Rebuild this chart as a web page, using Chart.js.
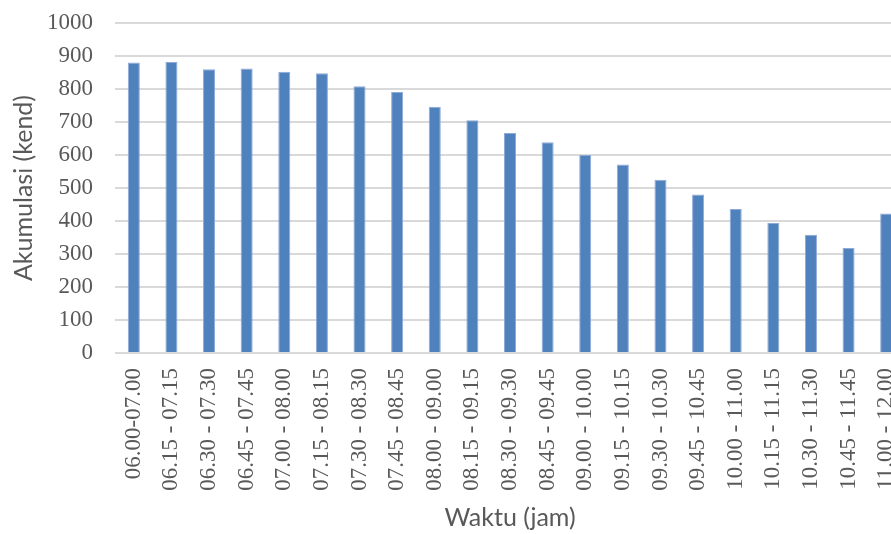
<!DOCTYPE html>
<html>
<head>
<meta charset="utf-8">
<script src="https://cdn.jsdelivr.net/npm/chart.js@4/dist/chart.umd.min.js"></script>
<style>
  html, body { margin: 0; padding: 0; background: #ffffff; overflow: hidden; }
  #chart { display: block; }
</style>
</head>
<body>
<canvas id="chart" width="905" height="534"></canvas>
<script>
// Time intervals (15-minute shifts) and accumulated vehicles per interval
const intervals = [
  "06.00-07.00", "06.15 - 07.15", "06.30 - 07.30", "06.45 - 07.45",
  "07.00 - 08.00", "07.15 - 08.15", "07.30 - 08.30", "07.45 - 08.45",
  "08.00 - 09.00", "08.15 - 09.15", "08.30 - 09.30", "08.45 - 09.45",
  "09.00 - 10.00", "09.15 - 10.15", "09.30 - 10.30", "09.45 - 10.45",
  "10.00 - 11.00", "10.15 - 11.15", "10.30 - 11.30", "10.45 - 11.45",
  "11.00 - 12.00"
];
const akumulasi = [
  880, 882, 860, 862, 852, 848, 808, 791, 746, 705, 667,
  639, 600, 571, 525, 480, 436, 394, 358, 318, 423
];
const yTicks = [0, 100, 200, 300, 400, 500, 600, 700, 800, 900, 1000];

const textColor = "#595959";
const serif = "'Liberation Serif', 'Times New Roman', serif";
const sans = "Lato, 'Open Sans', sans-serif";

new Chart(document.getElementById("chart"), {
  type: "bar",
  data: {
    labels: intervals,
    datasets: [{
      label: "Akumulasi",
      data: akumulasi,
      backgroundColor: "#4f81bd",
      borderColor: "#8eaad8",
      borderWidth: 1,
      categoryPercentage: 1.0,
      barPercentage: 0.32
    }]
  },
  options: {
    responsive: false,
    animation: false,
    layout: { padding: { top: 23, right: 0, bottom: 0, left: 0 } },
    plugins: {
      legend: { display: false },
      tooltip: { enabled: false }
    },
    scales: {
      x: {
        grid: { display: false, drawTicks: false },
        border: { display: false },
        ticks: {
          color: textColor,
          font: { family: serif, size: 23 },
          minRotation: 90,
          maxRotation: 90,
          autoSkip: false,
          padding: 15
        },
        title: {
          display: true,
          text: "Waktu (jam)",
          color: textColor,
          font: { family: sans, size: 25 },
          padding: { top: 0, bottom: 1 }
        },
        afterFit: (scale) => {
          scale.height = 181;
          scale.paddingLeft = 0;
          scale.paddingRight = 0;
        }
      },
      y: {
        min: 0,
        max: 1000,
        afterBuildTicks: (scale) => { scale.ticks = yTicks.map(v => ({ value: v })); },
        grid: { color: "#d9d9d9", lineWidth: 2, drawTicks: false },
        border: { display: false },
        ticks: {
          color: textColor,
          font: { family: serif, size: 23 },
          padding: 22,
          callback: (v) => String(v)
        },
        title: {
          display: true,
          text: "Akumulasi (kend)",
          color: textColor,
          font: { family: sans, size: 25 },
          padding: { top: 9, bottom: 0 }
        },
        afterFit: (scale) => {
          scale.width = 115;
          scale.paddingTop = 0;
          scale.paddingBottom = 0;
        }
      }
    }
  }
});
</script>
</body>
</html>
